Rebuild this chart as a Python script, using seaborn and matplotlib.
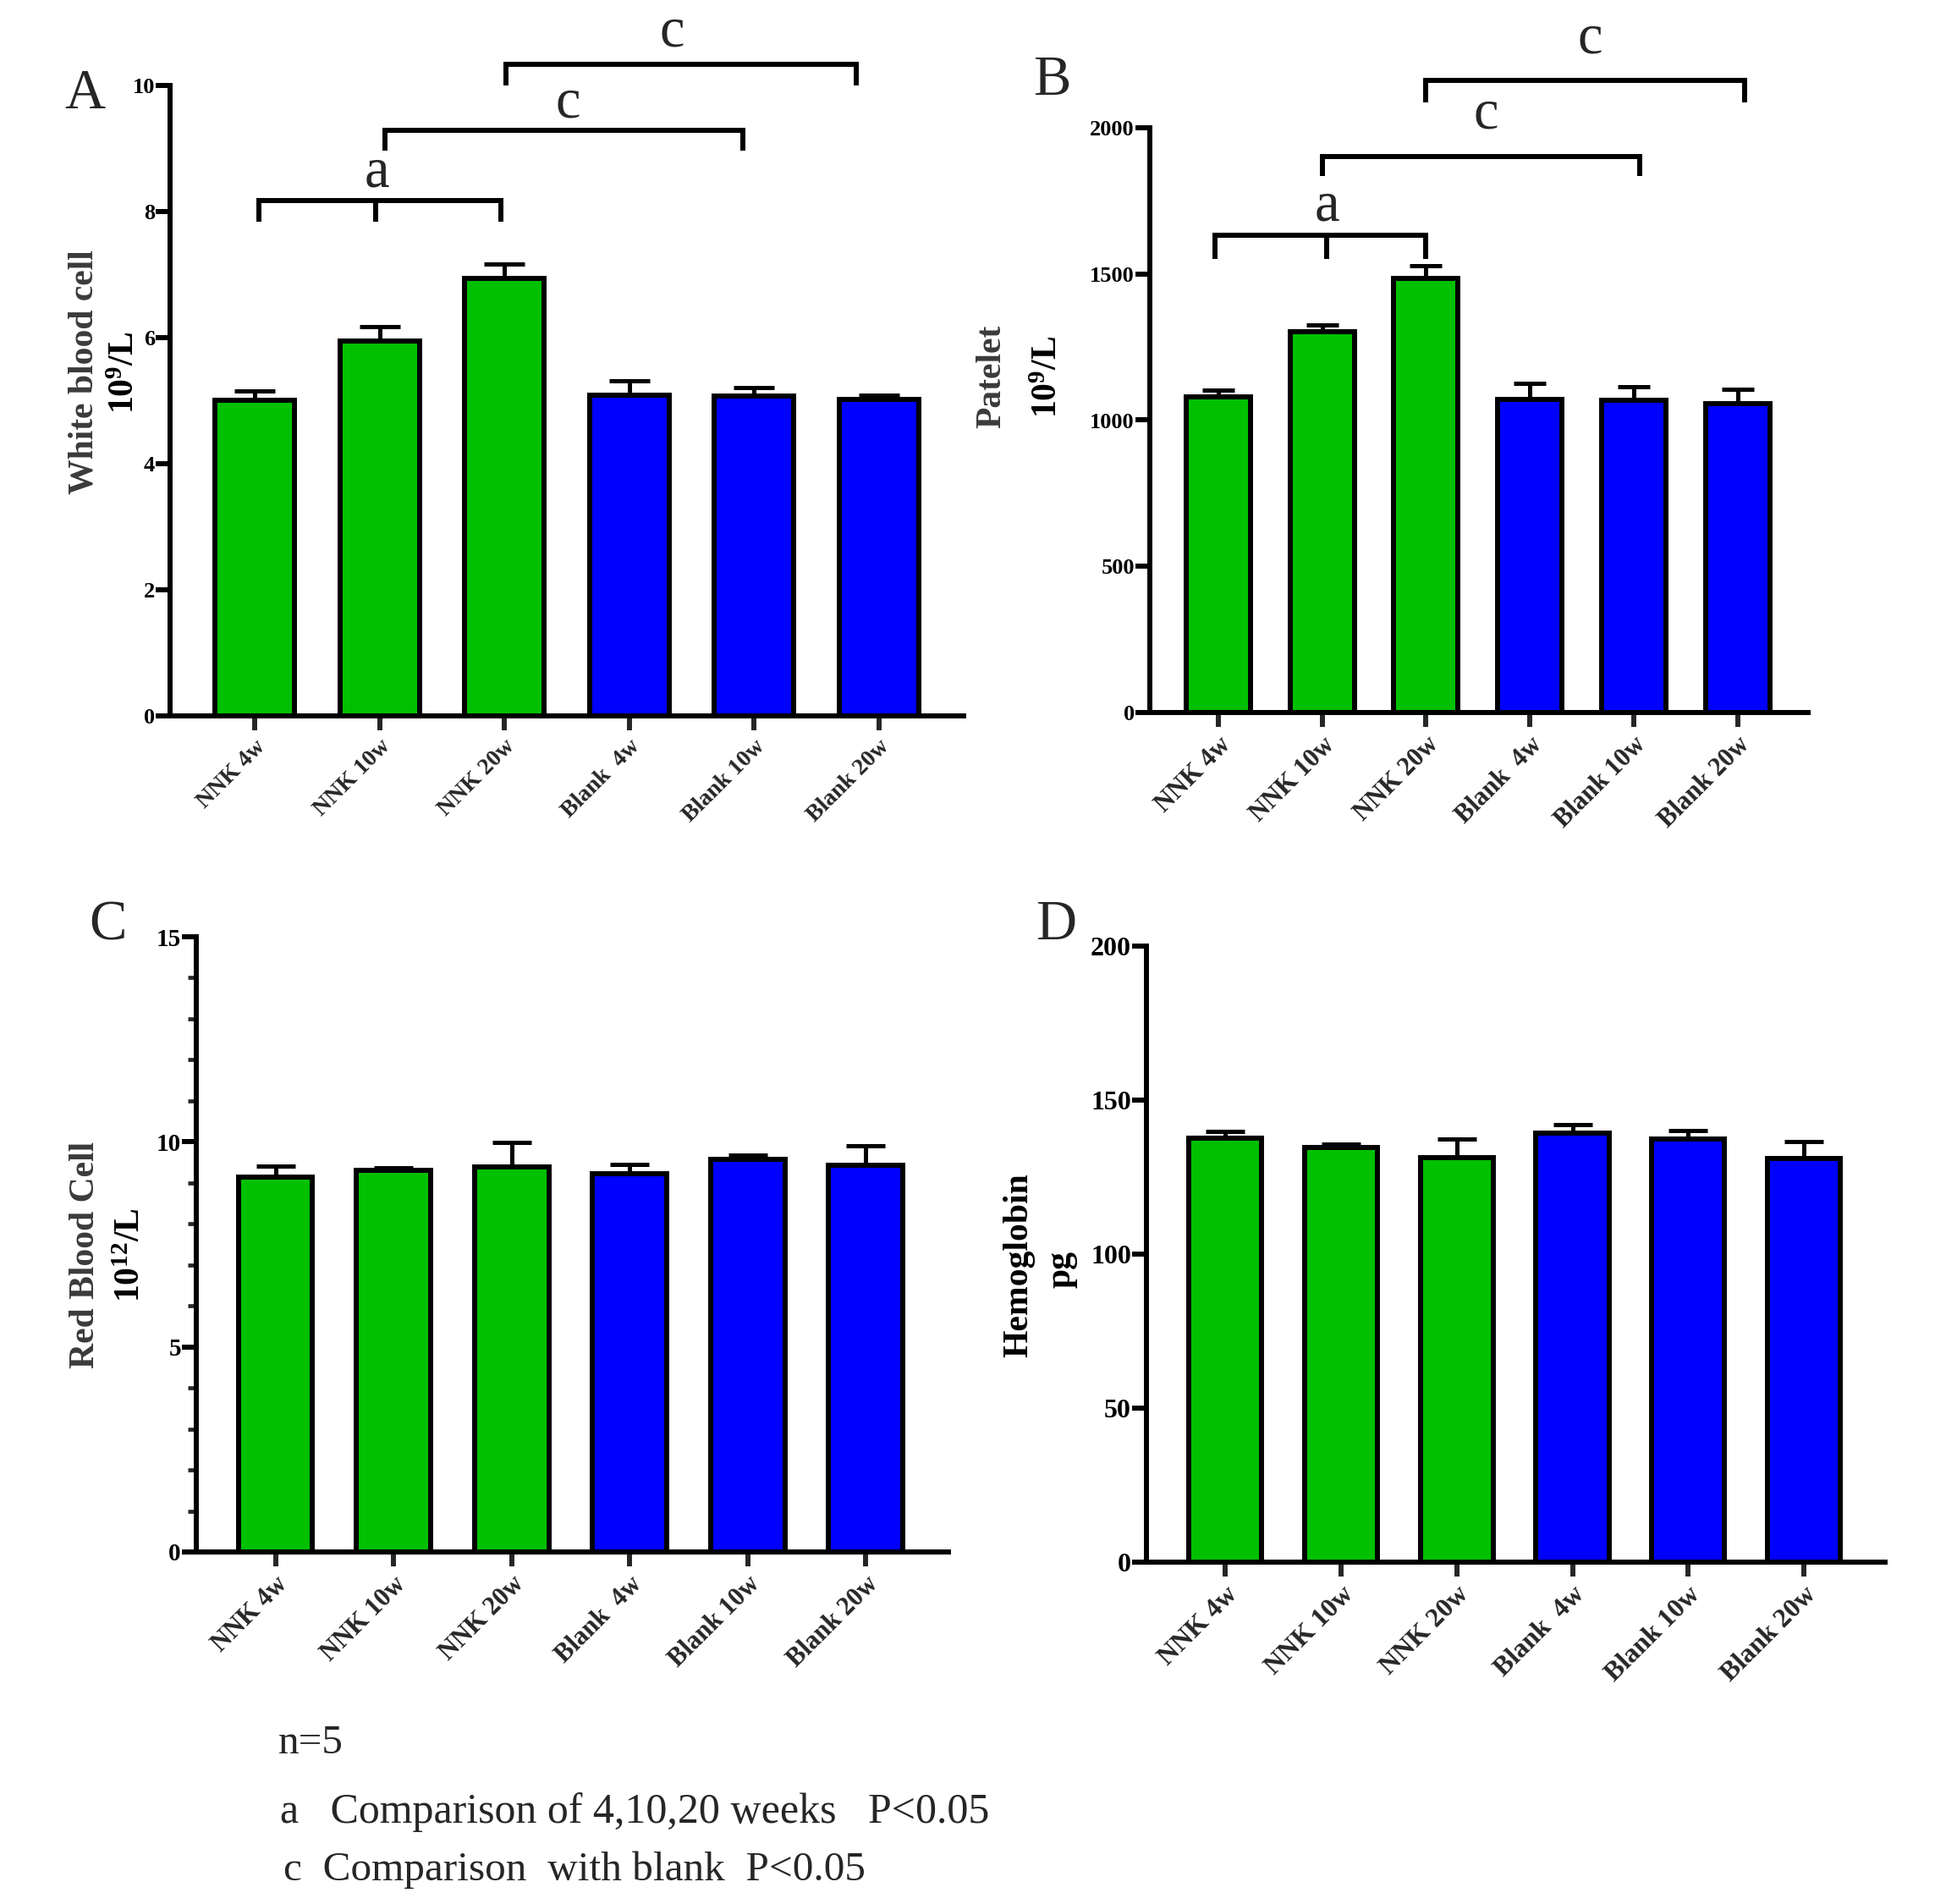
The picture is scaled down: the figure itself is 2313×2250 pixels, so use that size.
import numpy as np
import matplotlib
matplotlib.use("Agg")
import matplotlib.pyplot as plt
import seaborn as sns

sns.set_style("white")
plt.rcParams['font.family'] = ['Liberation Serif', 'DejaVu Serif']
plt.rcParams['mathtext.fontset'] = 'custom'
plt.rcParams['mathtext.rm'] = 'Liberation Serif:bold'
plt.rcParams['mathtext.bf'] = 'Liberation Serif:bold'
plt.rcParams['mathtext.default'] = 'bf'

# ---------------- data ----------------
categories = ["NNK 4w", "NNK 10w", "NNK 20w", "Blank  4w", "Blank 10w", "Blank 20w"]
bar_colors = ["#00C000", "#00C000", "#00C000", "#0000FF", "#0000FF", "#0000FF"]

wbc_mean = [5.01, 5.95, 6.94, 5.09, 5.07, 5.02]
wbc_sem = [0.14, 0.23, 0.23, 0.23, 0.14, 0.07]

plt_mean = [1079, 1303, 1486, 1070, 1067, 1055]
plt_sem = [23, 22, 41, 56, 48, 50]

rbc_mean = [9.13, 9.30, 9.38, 9.22, 9.57, 9.43]
rbc_sem = [0.27, 0.06, 0.60, 0.24, 0.11, 0.47]

hgb_mean = [137.6, 134.6, 131.3, 139.2, 137.4, 131.1]
hgb_sem = [2.2, 1.1, 6.0, 2.7, 2.7, 5.4]

# significance brackets: (x positions of legs, bar y, leg bottom y, label, label x, label y)
wbc_brackets = [
    ([0.03, 0.97, 1.97], 8.17, 7.84, "a", 0.98, 8.62),
    ([1.04, 3.91], 9.29, 8.96, "c", 2.51, 9.72),
    ([2.01, 4.82], 10.33, 10.0, "c", 3.34, 10.85),
]
plt_brackets = [
    ([-0.03, 1.04, 2.0], 1632, 1551, "a", 1.05, 1730),
    ([1.0, 4.06], 1902, 1834, "c", 2.58, 2045),
    ([2.0, 5.07], 2161, 2087, "c", 3.58, 2305),
]

W, H = 2313, 2250
fig = plt.figure(figsize=(W / 100, H / 100), dpi=100)


def fx(px):
    return px / W


def fy(py):
    return 1 - py / H


def make_axes(l, r, t, b):
    return fig.add_axes([fx(l), fy(b), fx(r) - fx(l), fy(t) - fy(b)])


LW = 4.3


def draw_panel(ax, means, sems, ylim, yticks, xlim, width, xfs, yfs, capsize,
               minor=None):
    sns.barplot(x=categories, y=means, hue=categories, palette=bar_colors,
                order=categories, legend=False, width=width, edgecolor="black",
                linewidth=LW, saturation=1, ax=ax, zorder=3)
    ax.errorbar(np.arange(len(means)), means,
                yerr=[np.zeros(len(sems)), sems], fmt="none", ecolor="black",
                elinewidth=3.6, capsize=capsize, capthick=3.6, zorder=2)
    ax.set_ylim(*ylim)
    ax.set_xlim(*xlim)
    ax.set_yticks(yticks)
    ax.set_yticklabels([str(v) for v in yticks], fontsize=yfs, fontweight="bold")
    if minor is not None:
        ax.set_yticks(minor, minor=True)
    ax.set_xticks(range(len(categories)))
    ax.set_xticklabels(categories, fontsize=xfs, fontweight="bold", rotation=45,
                       ha="right", va="top", rotation_mode="anchor")
    for s in ["top", "right"]:
        ax.spines[s].set_visible(False)
    for s in ["left", "bottom"]:
        ax.spines[s].set_linewidth(LW)
        ax.spines[s].set_color("black")
        ax.spines[s].set_capstyle("projecting")
    ax.tick_params(axis="y", which="major", direction="out", length=12, width=LW,
                   pad=1, left=True, colors="black")
    ax.tick_params(axis="y", which="minor", direction="out", length=7, width=3.4,
                   left=True)
    ax.tick_params(axis="x", direction="out", length=12, width=LW, pad=5,
                   bottom=True)
    ax.set_xlabel("")
    ax.set_ylabel("")
    ax.grid(False)


def draw_brackets(ax, brackets, fs):
    for xs, ytop, ybot, lab, lx, ly in brackets:
        ax.plot([xs[0], xs[-1]], [ytop, ytop], color="black", lw=LW,
                clip_on=False, solid_capstyle="projecting", zorder=5)
        for x in xs:
            ax.plot([x, x], [ybot, ytop], color="black", lw=LW, clip_on=False,
                    solid_capstyle="butt", zorder=5)
        ax.text(lx, ly, lab, fontsize=fs, ha="center", va="center",
                clip_on=False)


# Panel A
axA = make_axes(201, 1139, 101, 846)
draw_panel(axA, wbc_mean, wbc_sem, (0, 10), [0, 2, 4, 6, 8, 10], (-0.68, 5.68),
           0.64, 20, 19, 17)
draw_brackets(axA, wbc_brackets, 48)

# Panel B
axB = make_axes(1359, 2137, 151, 842)
draw_panel(axB, plt_mean, plt_sem, (0, 2000), [0, 500, 1000, 1500, 2000],
           (-0.66, 5.68), 0.62, 22, 19, 14)
draw_brackets(axB, plt_brackets, 48)

# Panel C
axC = make_axes(232, 1121, 1107, 1834)
draw_panel(axC, rbc_mean, rbc_sem, (0, 15), [0, 5, 10, 15], (-0.67, 5.70),
           0.63, 22, 21, 16.5, minor=[1, 2, 3, 4, 6, 7, 8, 9, 11, 12, 13, 14])

# Panel D
axD = make_axes(1355, 2228, 1118, 1846)
draw_panel(axD, hgb_mean, hgb_sem, (0, 200), [0, 50, 100, 150, 200],
           (-0.68, 5.70), 0.63, 23, 23, 16.5)

# Y labels (two lines each)
ylab_color = "#3a3a3a"
fig.text(fx(100), fy(440), "White blood cell", rotation=90, fontsize=30,
         fontweight="bold", color=ylab_color, ha="center", va="center")
fig.text(fx(148), fy(440), "10$^{9}$/L", rotation=90, fontsize=30,
         fontweight="bold", color="black", ha="center", va="center")
fig.text(fx(1172), fy(445), "Patelet", rotation=90, fontsize=30,
         fontweight="bold", color=ylab_color, ha="center", va="center")
fig.text(fx(1239), fy(445), "10$^{9}$/L", rotation=90, fontsize=30,
         fontweight="bold", color="black", ha="center", va="center")
fig.text(fx(101), fy(1483), "Red Blood Cell", rotation=90, fontsize=30,
         fontweight="bold", color=ylab_color, ha="center", va="center")
fig.text(fx(155), fy(1483), "10$^{12}$/L", rotation=90, fontsize=30,
         fontweight="bold", color="black", ha="center", va="center")
fig.text(fx(1204), fy(1495), "Hemoglobin", rotation=90, fontsize=30,
         fontweight="bold", color="black", ha="center", va="center")
fig.text(fx(1255), fy(1500), "pg", rotation=90, fontsize=30,
         fontweight="bold", color="black", ha="center", va="center")

# Panel letters
for lab, x, y in [("A", 100, 112), ("B", 1243, 96), ("C", 128, 1094),
                  ("D", 1248, 1094)]:
    fig.text(fx(x), fy(y), lab, fontsize=48, ha="center", va="center")

# Footnote
fig.text(fx(329), fy(2060), "n=5", fontsize=35.5, ha="left", va="center")
fig.text(fx(331), fy(2142), "a   Comparison of 4,10,20 weeks   P<0.05",
         fontsize=36, ha="left", va="center")
fig.text(fx(335), fy(2210), "c  Comparison  with blank  P<0.05",
         fontsize=35.5, ha="left", va="center")

fig.savefig("out.png", dpi=100, facecolor="white")
